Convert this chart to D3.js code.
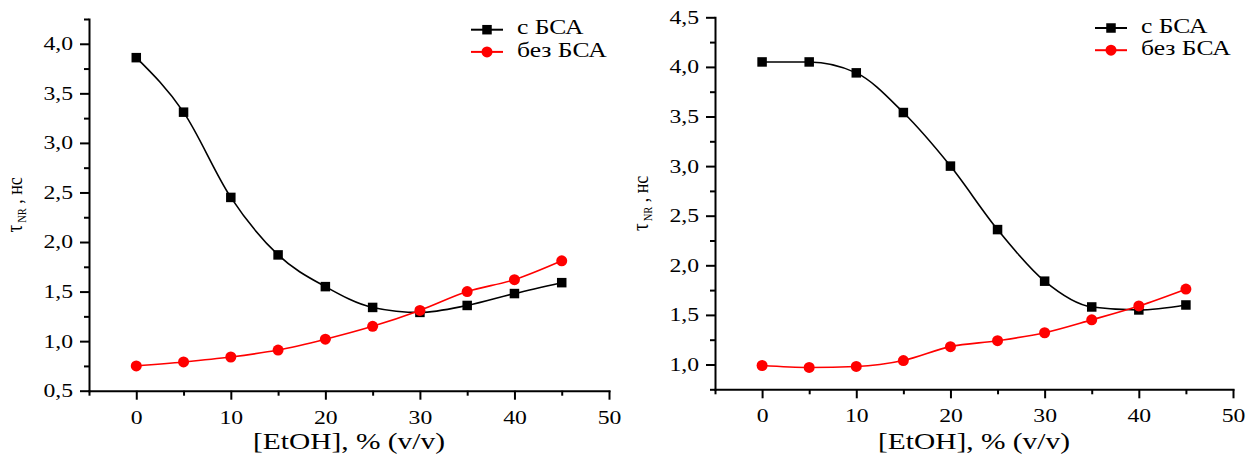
<!DOCTYPE html>
<html>
<head>
<meta charset="utf-8">
<script src="https://cdn.jsdelivr.net/npm/d3@7"></script>
<style>
  html, body { margin: 0; padding: 0; background: #fff; }
  svg { display: block; }
  text { font-family: "Liberation Serif", "Times New Roman", "DejaVu Serif", serif; fill: #000; }
</style>
</head>
<body>
<svg id="chart" width="1259" height="456"></svg>
<script>
// ---------- data ----------
const ethanol = [0, 5, 10, 15, 20, 25, 30, 35, 40, 45];
const leftWithBSA    = [3.86, 3.31, 2.45, 1.87, 1.55, 1.34, 1.29, 1.36, 1.48, 1.59];
const leftWithoutBSA = [0.75, 0.79, 0.84, 0.91, 1.02, 1.15, 1.31, 1.50, 1.62, 1.81];
const rightWithBSA    = [4.05, 4.05, 3.94, 3.54, 3.00, 2.36, 1.84, 1.58, 1.55, 1.60];
const rightWithoutBSA = [0.99, 0.97, 0.98, 1.04, 1.18, 1.24, 1.32, 1.45, 1.59, 1.76];
const xTicks = [0, 10, 20, 30, 40, 50];
const xMinorTicks = [-5, 5, 15, 25, 35, 45];
const leftYTicks = [0.5, 1.0, 1.5, 2.0, 2.5, 3.0, 3.5, 4.0];
const rightYTicks = [1.0, 1.5, 2.0, 2.5, 3.0, 3.5, 4.0, 4.5];
const yMinorTicks = [0.75, 1.25, 1.75, 2.25, 2.75, 3.25, 3.75, 4.25];
const seriesNames = ["с БСА", "без БСА"];
const xLabel = "[EtOH], % (v/v)";

// ---------- layout ----------
const SX = 1.28; // horizontal stretch of text in the reference
const panels = [
  { left: 89, right: 609, top: 19, bottom: 390.7, yDomain: [0.5, 4.25], yTicks: leftYTicks,
    series: [leftWithBSA, leftWithoutBSA] },
  { left: 715, right: 1233, top: 17.3, bottom: 389.3, yDomain: [0.75, 4.5], yTicks: rightYTicks,
    series: [rightWithBSA, rightWithoutBSA] }
];
const colors = ["#000000", "#ff0000"];
const fmt = v => d3.format(".1f")(v).replace(".", ",");

const svg = d3.select("#chart");

panels.forEach(p => {
  const x = d3.scaleLinear().domain([-5, 50]).range([p.left, p.right]);
  const y = d3.scaleLinear().domain(p.yDomain).range([p.bottom, p.top]);
  const g = svg.append("g");

  // minor ticks
  g.append("g").attr("transform", `translate(0,${p.bottom})`)
    .call(d3.axisBottom(x).tickValues(xMinorTicks).tickSize(5).tickSizeOuter(0).tickFormat(""))
    .call(a => a.select(".domain").remove());
  g.append("g").attr("transform", `translate(${p.left},0)`)
    .call(d3.axisLeft(y).tickValues(yMinorTicks).tickSize(5).tickSizeOuter(0).tickFormat(""))
    .call(a => a.select(".domain").remove());

  // major axes
  const xa = g.append("g").attr("transform", `translate(0,${p.bottom})`)
    .call(d3.axisBottom(x).tickValues(xTicks).tickSize(9).tickPadding(11).tickSizeOuter(0));
  const ya = g.append("g").attr("transform", `translate(${p.left},0)`)
    .call(d3.axisLeft(y).tickValues(p.yTicks).tickSize(9).tickPadding(7).tickSizeOuter(0).tickFormat(fmt));

  [xa, ya].forEach(a => a.attr("font-family", null));
  [xa, ya].forEach(a => {
    a.selectAll("text").style("font-size", "18.5px");
  });
  ya.selectAll("text").attr("x", -16 / SX).attr("transform", `scale(${SX},1)`);
  xa.selectAll("text").attr("transform", `scale(${SX},1)`);

  g.selectAll(".domain, .tick line").attr("stroke", "#000").attr("stroke-width", 2);
  g.selectAll(".domain").attr("stroke-linecap", "square");

  // x label
  g.append("text")
    .attr("transform", `translate(${(p.left + p.right) / 2},449) scale(${SX},1)`)
    .attr("text-anchor", "middle")
    .style("font-size", "23px")
    .text(xLabel);

  // y label
  const yl = g.append("text")
    .attr("transform", `translate(${p.left - 67},${(p.top + p.bottom) / 2}) scale(1.2,1) rotate(-90)`)
    .attr("text-anchor", "middle");
  yl.append("tspan").style("font-size", "19px").text("τ");
  yl.append("tspan").style("font-size", "10.5px").attr("dy", 3.5).attr("dx", 2).text("NR");
  yl.append("tspan").style("font-size", "18px").attr("dy", -3.5).text(" , нс");

  // series
  const line = d3.line().x((d, i) => x(ethanol[i])).y(d => y(d)).curve(d3.curveMonotoneX);
  p.series.forEach((vals, si) => {
    g.append("path").datum(vals).attr("d", line)
      .attr("fill", "none").attr("stroke", colors[si]).attr("stroke-width", 1.6);
  });
  const sq = 9.5;
  g.selectAll(".sq").data(p.series[0]).enter().append("rect")
    .attr("x", (d, i) => x(ethanol[i]) - sq / 2).attr("y", d => y(d) - sq / 2)
    .attr("width", sq).attr("height", sq).attr("fill", colors[0]);
  g.selectAll(".ci").data(p.series[1]).enter().append("circle")
    .attr("cx", (d, i) => x(ethanol[i])).attr("cy", d => y(d)).attr("r", 5.5)
    .attr("fill", colors[1]);

  // legend
  const lx0 = p.right - 138, lx1 = p.right - 106, lxm = (lx0 + lx1) / 2;
  const rows = [p.top + 10.7, p.top + 32.9];
  seriesNames.forEach((name, si) => {
    const ry = rows[si];
    g.append("line").attr("x1", lx0).attr("x2", lx1).attr("y1", ry).attr("y2", ry)
      .attr("stroke", colors[si]).attr("stroke-width", 2);
    if (si === 0) {
      g.append("rect").attr("x", lxm - sq / 2).attr("y", ry - sq / 2).attr("width", sq).attr("height", sq)
        .attr("fill", colors[0]);
    } else {
      g.append("circle").attr("cx", lxm).attr("cy", ry).attr("r", 5.5).attr("fill", colors[1]);
    }
    g.append("text")
      .attr("transform", `translate(${p.right - 92},${ry + 4.6}) scale(${SX},1)`)
      .style("font-size", "20px")
      .text(name);
  });
});
</script>
</body>
</html>
